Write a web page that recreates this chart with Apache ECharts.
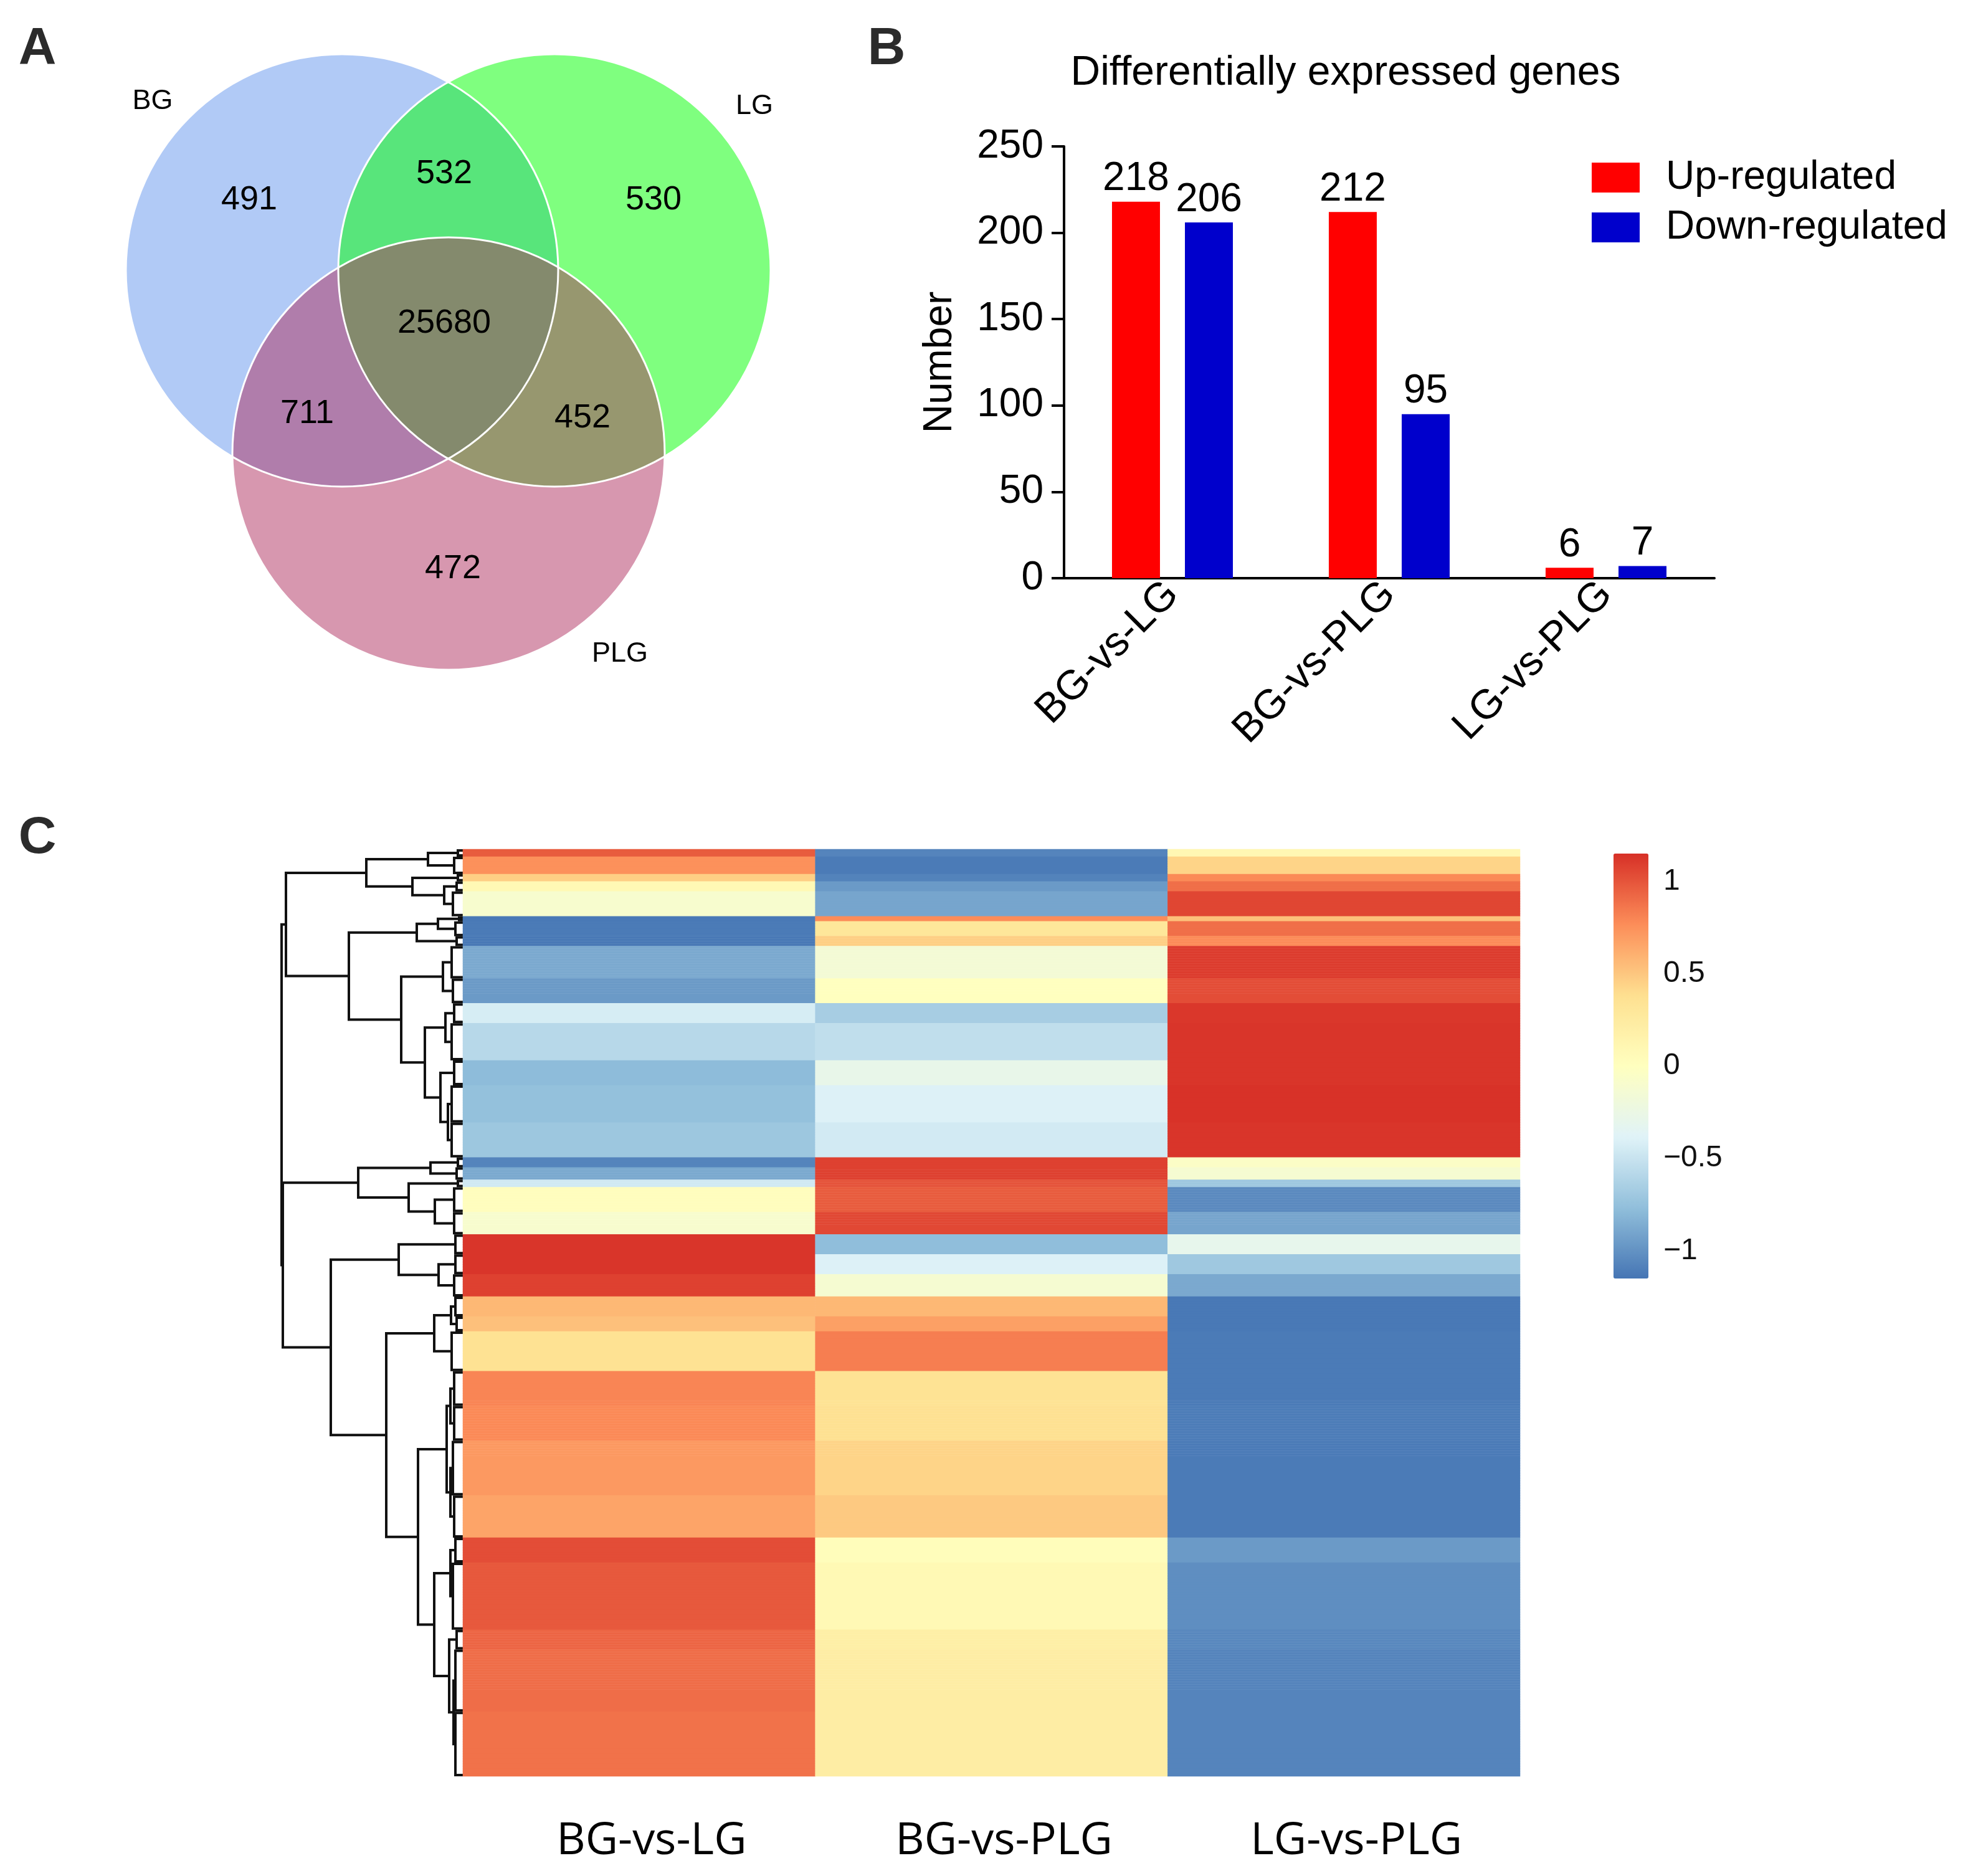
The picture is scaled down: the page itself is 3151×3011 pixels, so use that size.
<!DOCTYPE html>
<html><head><meta charset="utf-8">
<script src="https://cdn.jsdelivr.net/npm/echarts@6/dist/echarts.min.js"></script>
<style>html,body{margin:0;padding:0;background:#fff}#c{width:3151px;height:3011px}</style>
</head><body><div id="c"></div>
<script>
// ---------------- DATA ----------------
// Panel A: Venn diagram
const vennSets = ['BG', 'LG', 'PLG'];
const vennRegionNames = ['BG only', 'BG∩LG', 'LG only', 'BG∩LG∩PLG', 'BG∩PLG', 'LG∩PLG', 'PLG only'];
const vennCounts = [491, 532, 530, 25680, 711, 452, 472];

// Panel B: differentially expressed genes
const degCategories = ['BG-vs-LG', 'BG-vs-PLG', 'LG-vs-PLG'];
const upRegulated = [218, 212, 6];
const downRegulated = [206, 95, 7];
const degSeriesNames = ['Up-regulated', 'Down-regulated'];

// Panel C: heatmap (row blocks in dendrogram order)
const heatColumns = ['BG-vs-LG', 'BG-vs-PLG', 'LG-vs-PLG'];
const blockRows     = [3, 7, 3, 4, 10, 2, 6, 4, 13, 10, 8, 15, 10, 15, 14, 4, 5, 3, 10, 9, 8, 8, 9, 8, 6, 16, 14, 14, 22, 17, 10, 27, 8, 25, 26];
const blockBGvsLG   = [0.97, 0.75, 0.46, 0.08, -0.10, -1.13, -1.12, -1.13, -0.88, -0.96, -0.43, -0.58, -0.78, -0.75, -0.71, -1.07, -0.88, -0.46, 0.02, -0.10, 1.13, 1.13, 1.08, 0.57, 0.53, 0.36, 0.80, 0.78, 0.71, 0.66, 1.03, 0.98, 0.93, 0.90, 0.88];
const blockBGvsPLG  = [-1.07, -1.12, -1.08, -0.96, -0.90, 0.77, 0.30, 0.46, -0.15, 0.00, -0.66, -0.54, -0.28, -0.40, -0.45, 1.08, 1.08, 1.00, 0.97, 1.05, -0.77, -0.40, -0.12, 0.57, 0.68, 0.83, 0.35, 0.37, 0.44, 0.49, 0.03, 0.08, 0.20, 0.22, 0.22];
const blockLGvsPLG  = [0.10, 0.44, 0.78, 0.89, 1.06, 0.53, 0.89, 0.77, 1.10, 1.03, 1.12, 1.13, 1.13, 1.14, 1.13, -0.05, -0.12, -0.70, -1.04, -0.90, -0.30, -0.70, -0.88, -1.13, -1.13, -1.12, -1.12, -1.11, -1.12, -1.12, -0.96, -1.02, -1.05, -1.07, -1.07];
// dendrogram: leaf-cluster heights per block, and merge tree [height, left, right]
const blockLeafHeight = [8, 14, 8, 10, 16, 6, 12, 10, 18, 16, 14, 18, 14, 18, 18, 8, 10, 8, 14, 14, 12, 12, 14, 12, 10, 18, 14, 14, 16, 14, 12, 16, 10, 12, 12];
const dendrogramTree =
  [291,
    [284,
      [155, [56, 0, 1], [81, 2, [30, 3, 4]]],
      [183, [74, [40, 5, 6], 7], [99, [32, 8, 9], [61, [28, 10, 11], [36, 12, [24, 13, 14]]]]]],
    [289,
      [168, [52, 15, 16], [87, 17, [45, 18, 19]]],
      [212,
        [103, 20, [39, 21, 22]],
        [123,
          [46, [19, 23, 24], 25],
          [72, [26, [20, 26, 27], [20, 28, 29]], [46, [20, 30, 31], [22, 32, [15, 33, 34]]]]]]]];
const colorbarTicks = [1, 0.5, 0, -0.5, -1];
const colorRange = [-1.15, 1.15];

// ---------------- LAYOUT (positions / styles) ----------------
const FONT = 'Liberation Sans';
const vennCircleCenters = [[549, 434], [890, 434], [720, 728]];
const vennRadius = 347;
const vennFill = ['rgba(100,149,237,0.5)', 'rgba(0,255,0,0.5)', 'rgba(176,48,96,0.5)'];
const vennSetLabelPos = [[245, 163], [1211, 171], [995, 1050]];
const vennCountPos = [[400, 321], [713, 279], [1049, 321], [713, 519], [493, 664], [935, 671], [727, 913]];

// ---------------- BUILD ----------------
const rowNames = [];
const heatData = [];
const blockStart = [];
let r = 0;
blockRows.forEach((n, b) => {
  blockStart.push(r);
  for (let k = 0; k < n; k++) {
    rowNames.push('gene' + (r + 1));
    heatData.push([0, r, blockBGvsLG[b]], [1, r, blockBGvsPLG[b]], [2, r, blockLGvsPLG[b]]);
    r++;
  }
});
const nRows = rowNames.length;

// dendrogram U-shapes: [hChild1, y1, hNode, y2, hChild2]
const dendroSegs = [];
function layout(node) {
  if (typeof node === 'number') {
    const s = blockStart[node], e = s + blockRows[node] - 1, h = blockLeafHeight[node];
    dendroSegs.push([0, s, h, e, 0]);
    return { y: (s + e) / 2, h: h };
  }
  const a = layout(node[1]), b = layout(node[2]);
  dendroSegs.push([a.h, a.y, node[0], b.y, b.h]);
  return { y: (a.y + b.y) / 2, h: node[0] };
}
layout(dendrogramTree);

const vennCircleData = vennCircleCenters.map(c => [c[0], c[1], vennRadius]);
const vennCountData = vennCountPos.map((p, i) => [p[0], p[1], vennCounts[i]]);
const vennSetData = vennSetLabelPos.map((p, i) => [p[0], p[1], i]);

const hidden = { show: false };
const chart = echarts.init(document.getElementById('c'), null, { renderer: 'canvas' });
const option = {
  animation: false,
  backgroundColor: '#fff',
  textStyle: { fontFamily: FONT },
  grid: [
    { left: 0, top: 0, width: 1400, height: 1120 },
    { left: 1708, top: 235, width: 1044, height: 693 },
    { left: 452, top: 1363, width: 291, height: 1488 },
    { left: 743, top: 1363, width: 1697, height: 1488 },
    { left: 2590, top: 1370, width: 56, height: 682 }
  ],
  xAxis: [
    { gridIndex: 0, type: 'value', min: 0, max: 1400, show: false },
    { gridIndex: 1, type: 'category', data: degCategories,
      axisLine: { lineStyle: { color: '#000', width: 4 } },
      axisTick: { alignWithLabel: true, length: 20, lineStyle: { color: '#000', width: 4 } },
      axisLabel: { rotate: 45, fontSize: 66, color: '#000', margin: 16, fontFamily: FONT } },
    { gridIndex: 2, type: 'value', min: 0, max: 291, inverse: true, show: false },
    { gridIndex: 3, type: 'category', data: heatColumns, position: 'bottom',
      axisLine: hidden, axisTick: hidden,
      axisLabel: { fontSize: 72, color: '#000', margin: 68, fontFamily: 'Open Sans', padding: [0, 0, 0, 40] } },
    { gridIndex: 4, type: 'value', min: 0, max: 1, show: false }
  ],
  yAxis: [
    { gridIndex: 0, type: 'value', min: 0, max: 1120, inverse: true, show: false },
    { gridIndex: 1, type: 'value', min: 0, max: 250, interval: 50,
      name: 'Number', nameLocation: 'middle', nameGap: 167,
      nameTextStyle: { fontSize: 64, color: '#000', fontFamily: FONT },
      axisLine: { show: true, lineStyle: { color: '#000', width: 4 } },
      axisTick: { show: true, length: 20, lineStyle: { color: '#000', width: 4 } },
      axisLabel: { fontSize: 64, color: '#000', margin: 33, fontFamily: FONT },
      splitLine: hidden },
    { gridIndex: 2, type: 'value', min: -0.5, max: nRows - 0.5, inverse: true, show: false },
    { gridIndex: 3, type: 'category', data: rowNames, inverse: true, show: false },
    { gridIndex: 4, type: 'value', min: colorRange[0], max: colorRange[1], position: 'right',
      axisLine: hidden, axisTick: hidden, splitLine: hidden,
      axisLabel: { customValues: colorbarTicks, fontSize: 48, color: '#111', margin: 24, fontFamily: FONT,
        formatter: v => String(v).replace('-', '\u2212') } }
  ],
  legend: {
    data: degSeriesNames, orient: 'vertical', left: 2555, top: 253, padding: 0,
    itemWidth: 77, itemHeight: 48, itemGap: 16, icon: 'rect',
    textStyle: { fontSize: 64, color: '#000', fontFamily: FONT, padding: [0, 0, 0, 37] }
  },
  visualMap: {
    type: 'continuous', min: colorRange[0], max: colorRange[1], seriesIndex: 7, dimension: 2,
    left: 2590, top: 1370, itemWidth: 56, itemHeight: 682, padding: 0, calculable: false,
    inRange: { color: ['#4575B4', '#91BFDB', '#E0F3F8', '#FFFFBF', '#FEE090', '#FC8D59', '#D73027'] }
  },
  graphic: [
    { type: 'text', x: 60, y: 80, style: { text: 'A', fontSize: 84, fontWeight: 'bold', fill: '#2b2b2b', fontFamily: FONT, align: 'center', verticalAlign: 'middle' } },
    { type: 'text', x: 1423, y: 80, style: { text: 'B', fontSize: 84, fontWeight: 'bold', fill: '#2b2b2b', fontFamily: FONT, align: 'center', verticalAlign: 'middle' } },
    { type: 'text', x: 60, y: 1346, style: { text: 'C', fontSize: 84, fontWeight: 'bold', fill: '#2b2b2b', fontFamily: FONT, align: 'center', verticalAlign: 'middle' } },
    { type: 'text', x: 2160, y: 118, style: { text: 'Differentially expressed genes', fontSize: 66, fill: '#000', fontFamily: FONT, align: 'center', verticalAlign: 'middle' } }
  ],
  series: [
    { type: 'custom', xAxisIndex: 0, yAxisIndex: 0, data: vennCircleData, silent: true,
      renderItem: (params, api) => {
        const c = api.coord([api.value(0), api.value(1)]);
        const rr = api.size([api.value(2), 0])[0];
        return { type: 'circle', shape: { cx: c[0], cy: c[1], r: rr }, style: { fill: vennFill[params.dataIndex] } };
      } },
    { type: 'custom', xAxisIndex: 0, yAxisIndex: 0, data: vennCircleData, silent: true, z: 3,
      renderItem: (params, api) => {
        const c = api.coord([api.value(0), api.value(1)]);
        const rr = api.size([api.value(2), 0])[0];
        return { type: 'circle', shape: { cx: c[0], cy: c[1], r: rr }, style: { fill: 'none', stroke: '#fff', lineWidth: 3 } };
      } },
    { type: 'custom', xAxisIndex: 0, yAxisIndex: 0, data: vennCountData, silent: true, z: 4,
      renderItem: (params, api) => {
        const c = api.coord([api.value(0), api.value(1)]);
        return { type: 'text', x: c[0], y: c[1], style: { text: String(api.value(2)), fontSize: 54, fill: '#000', fontFamily: FONT, align: 'center', verticalAlign: 'middle' } };
      } },
    { type: 'custom', xAxisIndex: 0, yAxisIndex: 0, data: vennSetData, silent: true, z: 4,
      renderItem: (params, api) => {
        const c = api.coord([api.value(0), api.value(1)]);
        return { type: 'text', x: c[0], y: c[1], style: { text: vennSets[api.value(2)], fontSize: 45, fill: '#000', fontFamily: FONT, align: 'center', verticalAlign: 'middle' } };
      } },
    { name: degSeriesNames[0], type: 'bar', xAxisIndex: 1, yAxisIndex: 1, data: upRegulated,
      barWidth: 77, barGap: '52%', itemStyle: { color: '#ff0000' },
      label: { show: true, position: 'top', distance: 4, fontSize: 64, color: '#000', fontFamily: FONT } },
    { name: degSeriesNames[1], type: 'bar', xAxisIndex: 1, yAxisIndex: 1, data: downRegulated,
      barWidth: 77, barGap: '52%', itemStyle: { color: '#0000cc' },
      label: { show: true, position: 'top', distance: 4, fontSize: 64, color: '#000', fontFamily: FONT } },
    { type: 'custom', xAxisIndex: 2, yAxisIndex: 2, data: dendroSegs, silent: true,
      renderItem: (params, api) => {
        const p1 = api.coord([api.value(0), api.value(1)]);
        const p2 = api.coord([api.value(2), api.value(1)]);
        const p3 = api.coord([api.value(2), api.value(3)]);
        const p4 = api.coord([api.value(4), api.value(3)]);
        return { type: 'polyline', shape: { points: [p1, p2, p3, p4] }, style: { fill: 'none', stroke: '#111', lineWidth: 4 } };
      } },
    { type: 'heatmap', xAxisIndex: 3, yAxisIndex: 3, data: heatData, silent: true, progressive: 0 }
  ]
};
chart.setOption(option);
</script></body></html>
